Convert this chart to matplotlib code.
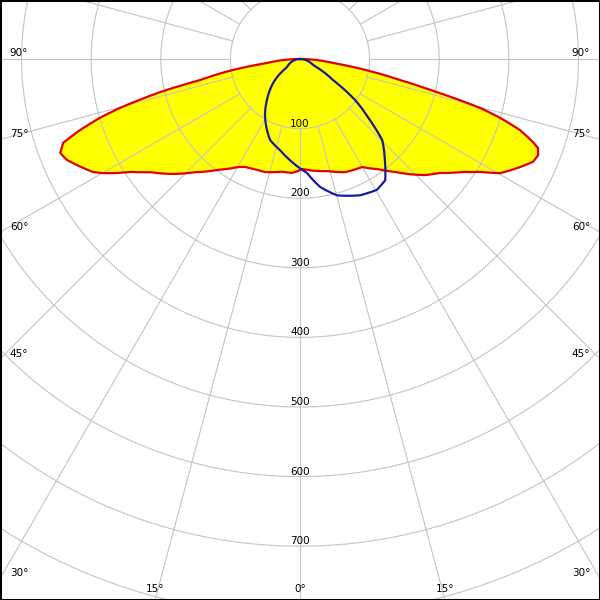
import numpy as np
import matplotlib
matplotlib.use('Agg')
import matplotlib.pyplot as plt

# ----------------------------
# Photometric data (cd), angle from nadir in degrees, negative = left half
# ----------------------------
# C0-C180 plane (red outline, yellow fill)
red_angles = [-90, -83, -80.7, -78.1, -76.7, -74.8, -73.6, -72.1, -70.5, -68.6,
              -66.6, -64.6, -61.4, -59.9, -58.1, -56.4, -53.0, -47.4, -42.9,
              -36.5, -29.9, -27.0, -22.2, -17.2, -9.1, -4.0, -1.0,
              1.0, 14.0, 21.7, 29.9, 35.3, 40.1, 47.1, 50.8, 55.3, 57.9,
              60.3, 63.3, 66.2, 68.0, 69.5, 70.4, 72.1, 73.6, 74.8, 76.3,
              78.1, 80.5, 83, 90]
red_cd = [0, 48, 98, 147, 206, 268, 300, 332, 361, 370,
          365, 355, 339, 327, 310, 293, 270, 244, 222,
          198, 179, 174, 171, 170, 164, 164, 161,
          158, 166, 175, 179, 194, 212, 245, 259, 285, 305,
          331, 349, 366, 369, 365, 355, 332, 300, 268, 207,
          147, 95, 48, 0]

# C90-C270 plane (blue outline)
blue_angles = [-90, -58, -50, -38.8, -32, -20.3, -12.4, -5.7, -1.1,
               3.5, 8.9, 15.2, 23.8, 30.4, 35.1, 39.3, 45.4, 48.9, 53.3,
               57.5, 65, 90]
blue_cd = [0, 22, 47, 76, 95, 124, 134, 146, 155,
           164, 186, 203, 214, 218, 213, 193, 166, 133, 99,
           56, 21, 0]

ring_values = [100, 200, 300, 400, 500, 600, 700]
side_angles = [90, 75, 60, 45, 30]
bottom_angles = [15, 0, 15]
bottom_signs = [-1, 0, 1]

# ----------------------------
# Figure setup (cd units, 0.696 px per cd)
# ----------------------------
px = 1 / 0.696
fig = plt.figure(figsize=(6, 6), dpi=100)
ax = fig.add_axes([0, 0, 1, 1])
ax.set_xlim(-300 * px, 300 * px)
ax.set_ylim(-541 * px, 59 * px)
ax.set_xticks([])
ax.set_yticks([])
for s in ax.spines.values():
    s.set_linewidth(2.2)
    s.set_color('black')


def to_xy(angles, values):
    # draw polar segments (r linear in angle) instead of straight chords
    fine = np.linspace(angles[0], angles[-1], 1500)
    fine = np.union1d(fine, angles)
    v = np.interp(fine, angles, values)
    a = np.radians(fine)
    return v * np.sin(a), -v * np.cos(a)


# filled C0 curve
rx, ry = to_xy(red_angles, red_cd)
ax.fill(rx, ry, color='#ffff00', zorder=1, lw=0)

# grid: rings and radial lines
grid_col = '#c4c4c4'
t = np.linspace(0, 2 * np.pi, 500)
for r in range(100, 1100, 100):
    ax.plot(r * np.sin(t), r * np.cos(t), color=grid_col, lw=0.8, zorder=2)
for a in range(0, 360, 15):
    ar = np.radians(a)
    ax.plot([100 * np.sin(ar), 1200 * np.sin(ar)], [-100 * np.cos(ar), -1200 * np.cos(ar)],
            color=grid_col, lw=0.8, zorder=2)

# curves
ax.plot(rx, ry, color='#e00000', lw=1.6, zorder=3)
bx, by = to_xy(blue_angles, blue_cd)
ax.plot(bx, by, color='#1a1a9c', lw=1.6, zorder=4)

# ring labels
for r in ring_values:
    ax.text(0, -r + 2 * px, str(r), ha='center', va='baseline', fontsize=7.5, zorder=5)

# angle labels on the sides
for a in side_angles:
    if a == 90:
        yh = 0
    else:
        yh = -300 * px / np.tan(np.radians(a))
    for sgn in [-1, 1]:
        ax.text(sgn * 281 * px, yh + 5.5 * px, f'{a}°', ha='center', va='center',
                fontsize=7.5, zorder=5)

# angle labels on the bottom
for a, sgn in zip(bottom_angles, bottom_signs):
    xh = sgn * 541 * px * np.tan(np.radians(a))
    ax.text(xh, -530 * px, f'{a}°', ha='center', va='center', fontsize=7.5, zorder=5)

plt.savefig('out.png', dpi=100)
